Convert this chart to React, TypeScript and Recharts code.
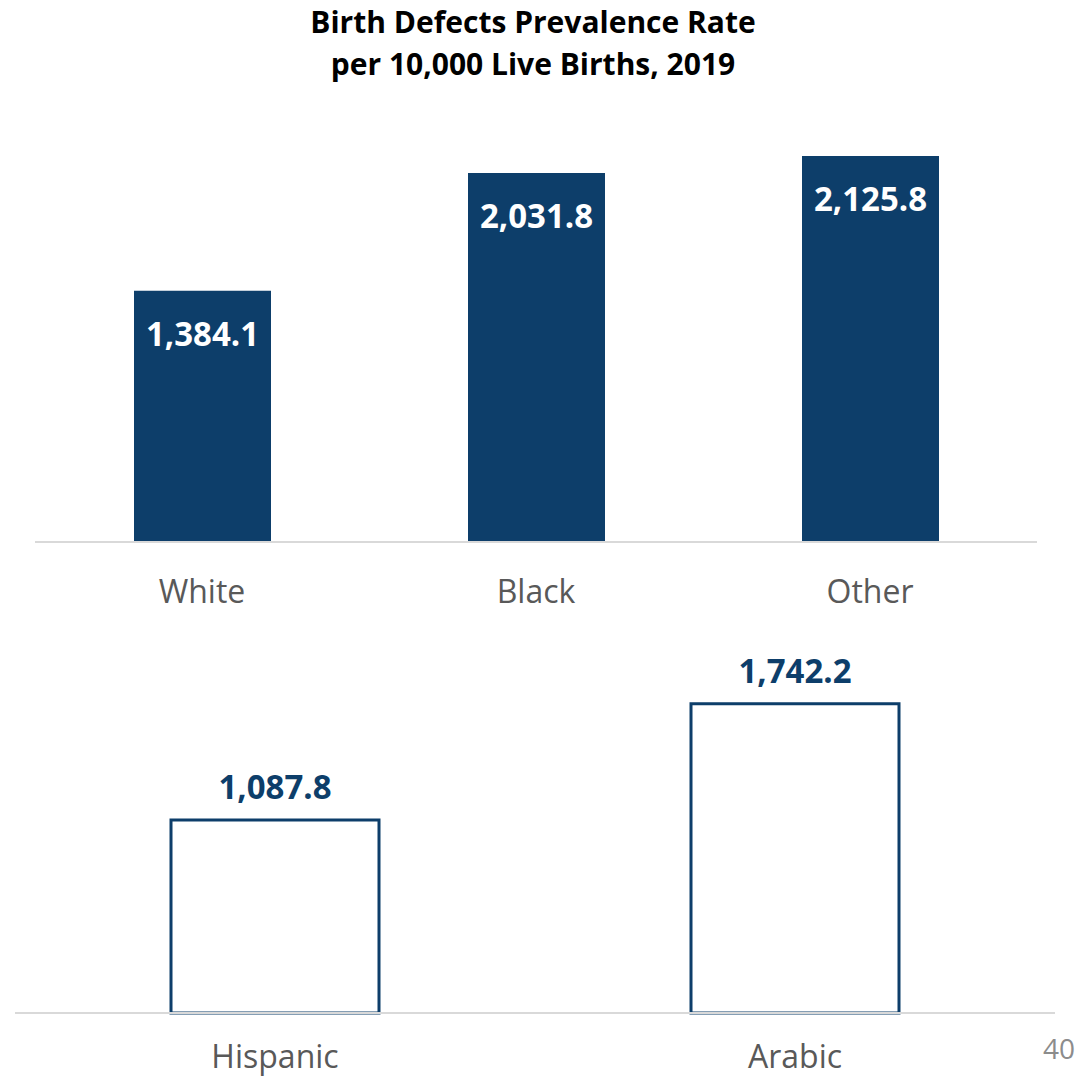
import { Bar, BarChart, LabelList, XAxis, YAxis } from 'recharts';

const raceCategories = ['White', 'Black', 'Other'];
const raceRates = [1384.1, 2031.8, 2125.8];

const ethnicityCategories = ['Hispanic', 'Arabic'];
const ethnicityRates = [1087.8, 1742.2];

const navy = '#0D3E6A';
const font = '"Open Sans", sans-serif';

const raceData = raceCategories.map((name, i) => ({ name, value: raceRates[i] }));
const ethnicityData = ethnicityCategories.map((name, i) => ({ name, value: ethnicityRates[i] }));

const fmt = (v: number) =>
  v.toLocaleString('en-US', { minimumFractionDigits: 1, maximumFractionDigits: 1 });

function CategoryTick({ x, y, payload, shift }: any) {
  return (
    <text
      x={x}
      y={y + shift}
      textAnchor="middle"
      dominantBaseline="central"
      fill="#595959"
      fontFamily={font}
      fontSize={32}
    >
      {payload.value}
    </text>
  );
}

function InsideLabel({ x, y, width, value }: any) {
  return (
    <text
      transform={`translate(${x + width / 2},${y + 42}) scale(0.97,1)`}
      textAnchor="middle"
      dominantBaseline="central"
      fill="#fff"
      fontFamily={font}
      fontWeight={700}
      fontSize={34}
    >
      {fmt(value)}
    </text>
  );
}

function AboveLabel({ x, y, width, value }: any) {
  return (
    <text
      transform={`translate(${x + width / 2},${y - 34}) scale(0.97,1)`}
      textAnchor="middle"
      dominantBaseline="central"
      fill={navy}
      fontFamily={font}
      fontWeight={700}
      fontSize={34}
    >
      {fmt(value)}
    </text>
  );
}

export default function App() {
  return (
    <div
      style={{
        position: 'absolute',
        left: 0,
        top: 0,
        width: 1081,
        height: 1078,
        overflow: 'hidden',
        background: '#fff',
        fontFamily: font,
      }}
    >
      <div
        style={{
          position: 'absolute',
          left: 0,
          top: 1,
          width: 1066,
          textAlign: 'center',
          fontWeight: 700,
          fontSize: 30,
          lineHeight: '42px',
          color: '#000',
        }}
      >
        Birth Defects Prevalence Rate
        <br />
        per 10,000 Live Births, 2019
      </div>

      <div style={{ position: 'absolute', left: 0, top: 0 }}>
        <BarChart
          width={1081}
          height={620}
          data={raceData}
          margin={{ top: 88, right: 44, left: 35, bottom: 0 }}
        >
          <YAxis hide domain={[0, 2500]} />
          <XAxis
            dataKey="name"
            height={78}
            axisLine={{ stroke: '#D9D9D9', strokeWidth: 2 }}
            tickLine={false}
            tick={<CategoryTick shift={40} />}
            interval={0}
          />
          <Bar dataKey="value" fill={navy} barSize={137} isAnimationActive={false}>
            <LabelList dataKey="value" content={<InsideLabel />} />
          </Bar>
        </BarChart>
      </div>

      <div style={{ position: 'absolute', left: 0, top: 620 }}>
        <BarChart
          width={1081}
          height={458}
          data={ethnicityData}
          margin={{ top: 38, right: 26, left: 15, bottom: 0 }}
        >
          <YAxis hide domain={[0, 2000]} />
          <XAxis
            dataKey="name"
            height={65}
            axisLine={{ stroke: '#D9D9D9', strokeWidth: 2 }}
            tickLine={false}
            tick={<CategoryTick shift={34} />}
            interval={0}
          />
          <Bar
            dataKey="value"
            fill="#fff"
            stroke={navy}
            strokeWidth={3}
            barSize={208}
            isAnimationActive={false}
          >
            <LabelList dataKey="value" content={<AboveLabel />} />
          </Bar>
        </BarChart>
      </div>

      <div
        style={{
          position: 'absolute',
          left: 1043,
          top: 1029,
          fontSize: 28,
          color: '#8C8C8C',
        }}
      >
        40
      </div>
    </div>
  );
}
